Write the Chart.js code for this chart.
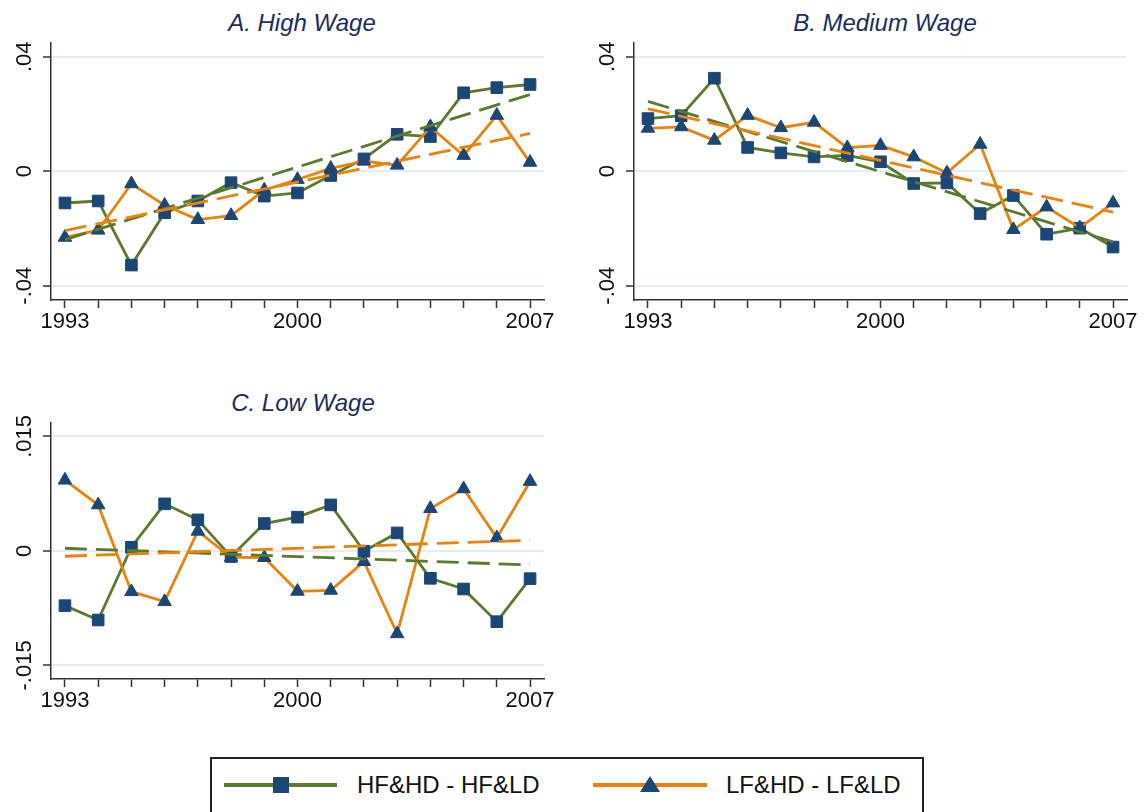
<!DOCTYPE html>
<html>
<head>
<meta charset="utf-8">
<script src="https://cdn.jsdelivr.net/npm/chart.js@4.4.1/dist/chart.umd.min.js"></script>
<style>
  body { margin: 0; width: 1145px; height: 812px; background: #fff; position: relative; overflow: hidden;
         font-family: "Liberation Sans", Arial, sans-serif; }
  canvas { position: absolute; }
  .title { position: absolute; width: 400px; text-align: center; font-style: italic; font-size: 24px;
           line-height: 30px; color: #1c2d5a; }
  #legend { position: absolute; left: 210px; top: 757px; width: 710px; height: 80px; border: 2px solid #222; }
  #legend .ln { position: absolute; height: 4px; top: 24px; }
  #legend .txt { position: absolute; top: 12px; font-size: 24px; line-height: 28px; color: #111; }
</style>
</head>
<body>
<div class="title" style="left:102px;top:8px">A. High Wage</div>
<div class="title" style="left:685px;top:8px">B. Medium Wage</div>
<div class="title" style="left:103px;top:388px">C. Low Wage</div>
<canvas id="chartA" width="590" height="345" style="left:0;top:0"></canvas>
<canvas id="chartB" width="562" height="345" style="left:583px;top:0"></canvas>
<canvas id="chartC" width="590" height="344" style="left:0;top:380px"></canvas>
<div id="legend">
  <div class="ln" style="left:12px;width:113px;background:#5a7a2e"></div>
  <div style="position:absolute;left:61px;top:18px;width:16px;height:16px;background:#1a4775"></div>
  <div class="txt" style="left:145px">HF&amp;HD - HF&amp;LD</div>
  <div class="ln" style="left:381px;width:114px;background:#ea820c"></div>
  <div style="position:absolute;left:428px;top:17px;width:0;height:0;border-left:10px solid transparent;border-right:10px solid transparent;border-bottom:16px solid #1a4775"></div>
  <div class="txt" style="left:514px">LF&amp;HD - LF&amp;LD</div>
</div>
<script>
// years on the x axis, only three of them get a label
const years = [1993, 1994, 1995, 1996, 1997, 1998, 1999, 2000, 2001, 2002, 2003, 2004, 2005, 2006, 2007];
const labeledYears = [1993, 2000, 2007];

// A. High Wage
const highHF = [-0.0111, -0.0104, -0.0328, -0.0145, -0.0104, -0.0040, -0.0087, -0.0076, -0.0015, 0.0043, 0.0129, 0.0121, 0.0274, 0.0292, 0.0303];
const highLF = [-0.0231, -0.0206, -0.0044, -0.0119, -0.0169, -0.0155, -0.0066, -0.0029, 0.0010, 0.0035, 0.0021, 0.0155, 0.0055, 0.0195, 0.0031];
const highFitHF = [-0.0239, 0.0268];   // dashed fit, value at 1993 and 2007
const highFitLF = [-0.0208, 0.0132];

// B. Medium Wage
const medHF = [0.0184, 0.0194, 0.0325, 0.0083, 0.0064, 0.0050, 0.0055, 0.0033, -0.0043, -0.0041, -0.0148, -0.0085, -0.0220, -0.0199, -0.0265];
const medLF = [0.0150, 0.0155, 0.0108, 0.0195, 0.0152, 0.0171, 0.0082, 0.0090, 0.0050, -0.0006, 0.0094, -0.0204, -0.0125, -0.0198, -0.0111];
const medFitHF = [0.0244, -0.0247];
const medFitLF = [0.0218, -0.0143];

// C. Low Wage
const lowHF = [-0.00717, -0.00905, 0.00048, 0.00617, 0.00407, -0.00074, 0.00359, 0.00442, 0.00603, -0.00004, 0.00236, -0.00359, -0.00499, -0.00927, -0.00363];
const lowLF = [0.00927, 0.00603, -0.00534, -0.00665, 0.00258, -0.00083, -0.00087, -0.00529, -0.00516, -0.00140, -0.01085, 0.00555, 0.00813, 0.00171, 0.00910];
const lowFitHF = [0.00035, -0.00184];
const lowFitLF = [-0.0007, 0.0014];

// y ticks
const wideTicks = [-0.04, 0, 0.04];
const wideTickLabels = ['-.04', '0', '.04'];
const narrowTicks = [-0.015, 0, 0.015];
const narrowTickLabels = ['-.015', '0', '.015'];

const green = '#5a7a2e';
const orange = '#ea820c';
const navy = '#1a4775';
const fontFamily = '"Liberation Sans", Arial, sans-serif';

// y labels in Stata are turned 90 degrees, so draw them ourselves
const rotatedYLabels = {
    id: 'rotatedYLabels',
    afterDraw(chart) {
        const scale = chart.scales.y;
        const ctx = chart.ctx;
        ctx.save();
        ctx.font = '22px ' + fontFamily;
        ctx.fillStyle = '#111';
        ctx.textAlign = 'center';
        ctx.textBaseline = 'alphabetic';
        scale.ticks.forEach(t => {
            ctx.save();
            ctx.translate(chart.chartArea.left - 20, scale.getPixelForValue(t.value));
            ctx.rotate(-Math.PI / 2);
            ctx.fillText(t.label, 0, 0);
            ctx.restore();
        });
        ctx.restore();
    }
};

function toPoints(values) {
    return values.map((v, i) => ({ x: years[i], y: v }));
}

function fitPoints(ends) {
    return [{ x: years[0], y: ends[0] }, { x: years[years.length - 1], y: ends[1] }];
}

function makePanel(id, hf, lf, fitHF, fitLF, yMin, yMax, ticks, tickLabels, padRight) {
    new Chart(document.getElementById(id), {
        type: 'line',
        data: {
            datasets: [
                { data: fitPoints(fitLF), borderColor: orange, borderWidth: 2.8, borderDash: [22, 9], pointRadius: 0, order: 0 },
                { data: fitPoints(fitHF), borderColor: green, borderWidth: 2.8, borderDash: [22, 9], pointRadius: 0, order: 1 },
                { label: 'LF&HD - LF&LD', data: toPoints(lf), borderColor: orange, borderWidth: 2.8,
                  pointStyle: 'triangle', pointRadius: 7.8, pointBackgroundColor: navy, pointBorderColor: navy, pointBorderWidth: 1, order: 2 },
                { label: 'HF&HD - HF&LD', data: toPoints(hf), borderColor: green, borderWidth: 2.8,
                  pointStyle: 'rect', pointRadius: 8.2, pointBackgroundColor: navy, pointBorderColor: navy, pointBorderWidth: 1, order: 3 }
            ]
        },
        options: {
            responsive: false,
            animation: false,
            devicePixelRatio: 1,
            layout: { padding: { top: 43, right: padRight, left: 0, bottom: 0 } },
            elements: { line: { tension: 0 } },
            plugins: { legend: { display: false }, tooltip: { enabled: false } },
            scales: {
                x: {
                    type: 'linear',
                    min: 1992.58,
                    max: 2007.42,
                    afterBuildTicks: s => { s.ticks = years.map(v => ({ value: v })); },
                    afterFit: s => { s.height = 45; },
                    ticks: {
                        callback: v => labeledYears.includes(v) ? String(v) : '',
                        font: { size: 22, family: fontFamily },
                        color: '#111',
                        padding: 1,
                        maxRotation: 0,
                        autoSkip: false
                    },
                    grid: { drawOnChartArea: false, tickLength: 8, tickColor: '#333', tickWidth: 1.5 },
                    border: { color: '#333', width: 1.5 }
                },
                y: {
                    min: yMin,
                    max: yMax,
                    afterBuildTicks: s => { s.ticks = ticks.map(v => ({ value: v })); },
                    afterFit: s => { s.width = 51; },
                    ticks: {
                        display: false,
                        callback: v => tickLabels[ticks.indexOf(v)]
                    },
                    grid: { color: '#e4eef0', lineWidth: 2, tickLength: 8, tickColor: '#333', tickWidth: 1.5 },
                    border: { color: '#333', width: 1.5 }
                }
            }
        },
        plugins: [rotatedYLabels]
    });
}

makePanel('chartA', highHF, highLF, highFitHF, highFitLF, -0.045, 0.0448, wideTicks, wideTickLabels, 46);
makePanel('chartB', medHF, medLF, medFitHF, medFitLF, -0.045, 0.0448, wideTicks, wideTickLabels, 18);
makePanel('chartC', lowHF, lowLF, lowFitHF, lowFitLF, -0.01678, 0.01676, narrowTicks, narrowTickLabels, 46);
</script>
</body>
</html>
